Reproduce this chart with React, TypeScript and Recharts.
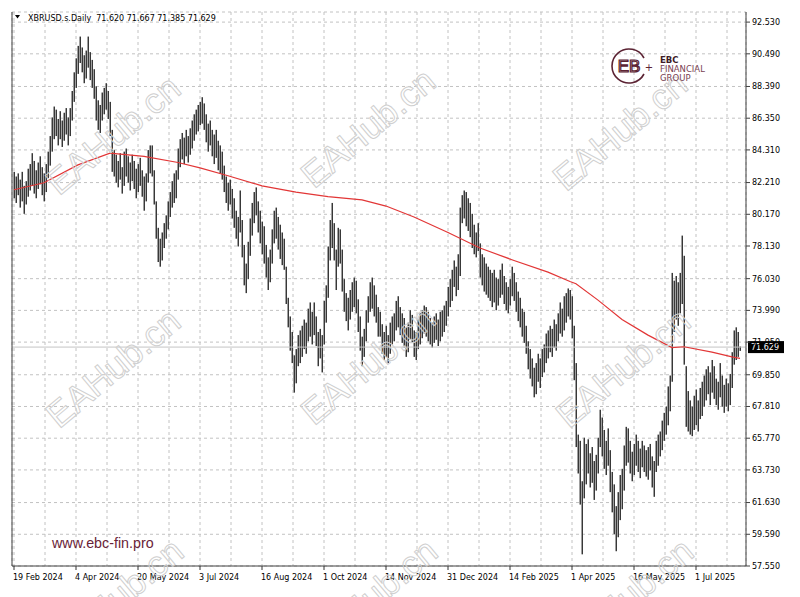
import React from 'react';
import { ComposedChart, Bar, Line, XAxis, YAxis, CartesianGrid, ReferenceLine } from 'recharts';

// Daily bars: lows and highs, one value per trading day (19 Feb 2024 onward)
const lows = [
  81.2,80.9,81.4,80.6,81.0,80.2,80.8,81.3,81.7,82.0,
  81.5,81.2,81.8,82.1,81.4,81.0,81.6,82.5,83.3,84.2,
  85.0,85.2,84.6,85.0,84.5,84.9,85.3,84.6,85.2,86.2,
  87.4,88.3,89.2,89.9,89.3,88.6,88.9,89.6,88.8,88.3,
  87.6,86.2,85.6,85.4,86.2,86.6,86.9,86.3,85.2,82.9,
  82.6,82.2,81.9,82.4,81.5,82.0,82.6,82.2,81.7,82.3,
  81.8,81.2,81.6,82.0,81.3,80.4,81.0,82.2,82.8,82.6,
  80.8,78.6,77.1,76.8,77.2,78.0,78.6,79.2,80.0,80.6,
  80.9,81.2,82.4,83.2,83.7,83.4,83.9,83.5,84.0,84.4,
  84.9,85.3,85.5,85.9,86.0,85.6,84.8,84.2,84.6,83.9,
  83.4,83.8,83.0,82.8,82.4,81.6,80.9,80.4,80.8,79.9,
  79.3,78.6,78.1,79.0,77.4,75.6,75.1,76.0,77.5,78.8,
  79.6,80.1,79.0,78.3,77.6,77.0,76.1,75.3,75.8,77.0,
  78.3,78.6,77.9,77.3,76.9,76.6,74.4,72.9,71.4,70.6,
  68.7,69.3,70.4,70.6,71.0,71.5,71.2,72.0,72.3,71.8,
  72.4,71.7,70.4,70.9,70.0,71.8,73.2,74.8,77.2,78.0,
  77.2,75.3,76.8,77.0,75.2,73.9,73.3,72.7,73.4,73.9,
  74.2,73.8,72.6,71.4,70.4,71.0,72.0,73.2,73.9,74.1,
  73.6,73.2,72.3,72.3,71.2,70.8,71.0,70.6,71.2,71.8,
  72.0,72.7,72.9,72.4,71.9,71.6,71.0,71.3,72.1,71.9,
  71.0,70.8,71.5,71.8,72.2,72.5,72.3,72.0,71.8,71.6,
  71.9,72.1,71.7,72.0,72.3,72.6,73.0,73.6,74.2,74.6,
  75.5,74.9,75.3,76.2,79.6,79.9,79.4,79.1,78.7,78.0,
  77.6,77.4,77.8,76.1,75.6,75.2,75.0,74.8,74.6,74.2,
  74.5,74.0,74.3,74.8,75.0,74.4,74.0,73.8,74.3,74.9,
  74.6,73.9,73.3,72.9,72.3,71.9,71.2,70.2,69.6,69.1,
  68.4,68.6,69.4,69.0,69.7,70.0,70.6,70.9,71.3,71.0,
  71.6,71.4,72.0,72.5,72.3,72.7,73.2,73.6,73.4,72.2,
  69.5,65.2,63.5,61.5,58.3,61.9,62.8,63.5,62.6,62.9,
  61.8,62.4,63.5,65.2,64.6,63.8,63.4,64.0,62.3,61.0,
  59.6,58.5,59.4,60.5,61.2,62.4,64.0,64.2,63.5,63.0,
  63.4,64.0,63.6,63.2,63.9,63.6,63.3,63.1,63.7,62.6,
  62.0,63.6,64.0,64.6,65.0,65.6,66.0,66.6,67.5,69.4,
  72.6,73.4,73.0,73.8,74.4,70.5,66.5,66.2,66.0,65.9,
  66.3,66.6,66.2,67.0,67.2,67.8,68.2,68.6,67.9,68.7,
  68.3,67.9,67.6,68.4,67.8,67.4,67.8,67.5,67.9,69.0,
  70.5,70.8,71.0,71.385,
];

const highs = [
  82.9,82.6,82.8,82.4,82.9,82.0,82.3,83.1,83.4,84.1,
  83.6,83.0,83.5,83.9,83.2,82.8,83.4,84.2,85.2,86.4,
  87.1,86.9,86.3,86.8,86.2,86.7,87.0,86.4,87.0,88.1,
  89.3,90.2,91.0,91.6,90.9,90.4,90.7,91.6,90.6,90.1,
  89.5,88.4,87.5,87.2,88.0,88.3,88.6,88.1,87.4,85.6,
  84.3,84.0,83.6,84.1,83.2,84.2,84.4,83.9,83.5,84.0,
  83.6,83.1,83.4,83.8,83.0,82.6,82.8,84.3,84.6,84.6,
  83.0,81.0,79.3,78.6,79.0,79.6,80.1,81.0,81.6,82.3,
  82.8,83.0,84.4,85.0,85.4,85.1,85.6,85.2,85.7,86.2,
  86.6,86.9,87.2,87.4,87.7,87.3,86.6,86.0,86.2,85.6,
  85.3,85.6,84.9,84.6,84.2,83.3,82.6,82.2,82.4,81.8,
  81.2,80.4,80.0,81.7,79.8,78.2,77.0,78.4,79.9,80.9,
  81.6,81.9,81.0,80.4,79.7,79.4,78.2,77.4,77.9,79.2,
  80.4,80.6,80.0,79.5,79.0,78.6,76.8,74.8,73.6,72.6,
  71.1,71.5,72.4,72.7,73.0,73.4,73.2,74.1,74.5,73.9,
  74.5,73.6,72.6,72.8,72.4,74.6,75.6,78.1,79.8,80.9,
  79.6,77.9,79.3,79.2,77.9,76.0,75.1,74.8,75.3,75.8,
  76.1,75.9,74.7,73.6,72.3,72.8,74.0,74.9,75.8,76.1,
  75.6,75.0,74.2,73.9,73.1,72.6,73.0,72.4,73.2,73.6,
  73.8,74.6,74.9,74.2,73.8,73.5,72.9,73.2,74.0,73.7,
  72.7,72.6,73.4,73.8,74.0,74.3,74.2,73.9,73.5,73.2,
  73.6,73.8,73.4,73.9,74.0,74.3,74.6,75.5,76.0,76.6,
  77.2,76.8,77.6,80.6,81.4,81.7,81.6,81.2,80.9,80.2,
  79.5,79.0,79.6,78.3,77.6,77.4,77.0,76.8,76.6,76.4,
  76.6,76.1,76.0,76.6,77.0,76.2,75.8,75.5,76.0,76.8,
  76.4,75.8,75.2,74.8,74.1,73.9,73.0,72.0,71.5,70.9,
  70.3,70.6,71.2,70.9,71.5,71.8,72.5,72.7,73.0,72.8,
  73.4,73.1,73.8,74.5,74.1,74.9,75.1,75.4,75.3,74.9,
  73.0,70.6,66.0,65.6,63.0,65.8,65.4,65.7,64.8,65.2,
  64.3,64.7,65.8,67.6,67.1,66.3,65.6,66.4,65.0,63.6,
  62.8,61.4,62.3,63.4,63.8,65.3,66.5,66.4,65.6,64.9,
  65.4,66.0,65.6,65.1,65.6,65.3,65.0,65.2,65.4,64.6,
  64.3,65.6,66.0,66.2,66.9,67.4,67.8,69.1,69.8,76.4,
  75.9,76.2,75.8,76.4,78.8,77.5,70.4,68.8,68.2,67.8,
  68.5,68.9,68.2,69.0,69.4,69.8,70.2,70.4,70.0,70.8,
  70.4,69.6,69.4,70.6,69.8,69.2,69.6,69.3,69.9,71.3,
  72.7,72.9,72.6,71.667,
];

// Moving average (red line), read at selected bars
const maIndex = [0, 15, 32, 48, 65, 82, 93, 107, 124, 141, 157, 174, 186, 200, 217, 233, 250, 267, 278, 281, 292, 304, 317, 329, 335, 349, 359, 363];
const maValues = [81.75, 82.2, 83.35, 84.1, 83.9, 83.5, 83.15, 82.65, 82.0, 81.6, 81.3, 81.1, 80.7, 80.0, 79.0, 78.0, 77.2, 76.45, 75.85, 75.7, 74.65, 73.4, 72.4, 71.6, 71.65, 71.3, 71.0, 70.9];

const dateLabels = ['19 Feb 2024', '4 Apr 2024', '20 May 2024', '3 Jul 2024', '16 Aug 2024', '1 Oct 2024', '14 Nov 2024', '31 Dec 2024', '14 Feb 2025', '1 Apr 2025', '16 May 2025', '1 Jul 2025'];
const barsPerLabel = 31;
const yTicks = [92.53, 90.49, 88.39, 86.35, 84.31, 82.21, 80.17, 78.13, 76.03, 73.99, 71.95, 69.85, 67.81, 65.77, 63.73, 61.63, 59.59, 57.55];
const yDomain = [57.55, 93.18];
const lastPrice = 71.629;
const header = 'XBRUSD.s.Daily  71.620 71.667 71.385 71.629';

const data = lows.map((lo, i) => ({ i, range: [lo, highs[i]], ma: null as number | null }));
maIndex.forEach((idx, k) => { data[idx].ma = maValues[k]; });

const xTicks: number[] = [];
for (let k = 0; k * (barsPerLabel / 2) <= lows.length - 1; k++) xTicks.push(k * (barsPerLabel / 2));

const FONT = 'DejaVu Sans, Tahoma, sans-serif';

const OhlcShape = (props: any) => {
  const { x, y, height } = props;
  if (x == null || y == null || height == null) return null;
  const h = Math.max(1, Math.abs(height));
  const top = height < 0 ? y + height : y;
  const px = Math.round(x);
  return (
    <g>
      <rect x={px} y={top} width={1} height={h} fill="#a0a0a0" />
      <rect x={px + 1} y={top} width={1} height={h} fill="#383838" />
    </g>
  );
};

const XTick = (props: any) => {
  const { x, y, payload } = props;
  const v = payload.value;
  const k = Math.round(v / barsPerLabel);
  if (Math.abs(v - k * barsPerLabel) > 0.01 || k >= dateLabels.length) return null;
  return (
    <g>
      <line x1={x} x2={x} y1={y} y2={y + 4} stroke="#333" />
      <text x={x - 1} y={y + 14} fontSize={8} fontFamily={FONT} fill="#000" textAnchor="start">{dateLabels[k]}</text>
    </g>
  );
};

const PriceLabel = (props: any) => {
  const vb = props.viewBox || {};
  const right = (vb.x ?? 0) + (vb.width ?? 0);
  const yy = vb.y ?? 0;
  return (
    <g>
      <rect x={right + 2} y={yy - 6} width={36} height={12} fill="#000" />
      <text x={right + 5} y={yy + 3} fontSize={8} fontFamily={FONT} fill="#fff">{lastPrice.toFixed(3)}</text>
    </g>
  );
};

const watermarks = [
  [115, 137], [370, 130], [622, 133],
  [115, 370], [370, 367], [625, 370],
  [118, 600], [372, 600], [628, 600],
];

export default function App() {
  return (
    <div style={{ position: 'absolute', left: 0, top: 0, width: 800, height: 597, background: '#fff', overflow: 'hidden' }}>
      <div style={{ position: 'absolute', left: 0, top: 0 }}>
        <ComposedChart width={800} height={597} data={data} margin={{ top: 12, right: 0, bottom: 0, left: 0 }}>
          <CartesianGrid yAxisId="r" stroke="#c2c2c2" strokeDasharray="3 3" />
          <XAxis
            dataKey="i"
            type="number"
            domain={[-1, 366]}
            ticks={xTicks}
            interval={0}
            allowDecimals
            height={31}
            tickSize={0}
            tickMargin={0}
            tickLine={false}
            axisLine={{ stroke: '#404040' }}
            tick={<XTick />}
          />
          <YAxis yAxisId="l" orientation="left" width={12} domain={yDomain} tick={false} tickLine={false} axisLine={{ stroke: '#404040' }} allowDataOverflow />
          <YAxis
            yAxisId="r"
            orientation="right"
            width={54}
            domain={yDomain}
            ticks={yTicks}
            interval={0}
            allowDataOverflow
            tickSize={4}
            tickMargin={2}
            tickLine={{ stroke: '#404040' }}
            axisLine={{ stroke: '#404040' }}
            tick={{ fontSize: 8, fontFamily: FONT, fill: '#000' }}
            tickFormatter={(v: number) => v.toFixed(3)}
          />
          <ReferenceLine yAxisId="r" y={lastPrice} stroke="#c4c4c4" label={<PriceLabel />} />
          <Bar yAxisId="r" dataKey="range" barSize={2} isAnimationActive={false} shape={<OhlcShape />} />
          <Line yAxisId="r" dataKey="ma" stroke="#e23636" strokeWidth={1.2} dot={false} connectNulls isAnimationActive={false} />
        </ComposedChart>
      </div>
      <svg width={800} height={597} style={{ position: 'absolute', left: 0, top: 0, pointerEvents: 'none' }}>
        {watermarks.map(([cx, cy], k) => (
          <text key={k} transform={`translate(${cx},${cy}) rotate(-40)`} textAnchor="middle" dominantBaseline="middle"
            fontSize={36} fontFamily="Liberation Sans, Arial, sans-serif" fill="none" stroke="#cfcfcf" strokeWidth={1}>EAHub.cn</text>
        ))}
        <polygon points="15,15 20,15 17.5,18.5" fill="#000" />
        <text x={28} y={20.5} fontSize={8} fontFamily={FONT} fill="#000" style={{ whiteSpace: 'pre' }}>{header}</text>
        {/* EBC logo */}
        <path d="M 644 58 A 17 17 0 1 0 644 74" fill="none" stroke="#5b2333" strokeWidth={1.6} />
        <text x={629} y={72} textAnchor="middle" fontSize={17} fontFamily="Liberation Sans, Arial, sans-serif" fill="none" stroke="#5b2333" strokeWidth={1.2}>EB</text>
        <text x={649} y={71} textAnchor="middle" fontSize={10} fontFamily={FONT} fill="#5b2333">+</text>
        <text x={660} y={63} fontSize={8.5} fontWeight="bold" fontFamily={FONT} fill="#3d1c27">EBC</text>
        <text x={660} y={72} fontSize={8.5} fontFamily={FONT} fill="#7a4252">FINANCIAL</text>
        <text x={660} y={81} fontSize={8.5} fontFamily={FONT} fill="#7a4252">GROUP</text>
        <text x={52} y={548} fontSize={14.3} fontFamily="Liberation Sans, Arial, sans-serif" fill="#6a2337">www.ebc-fin.pro</text>
      </svg>
    </div>
  );
}
